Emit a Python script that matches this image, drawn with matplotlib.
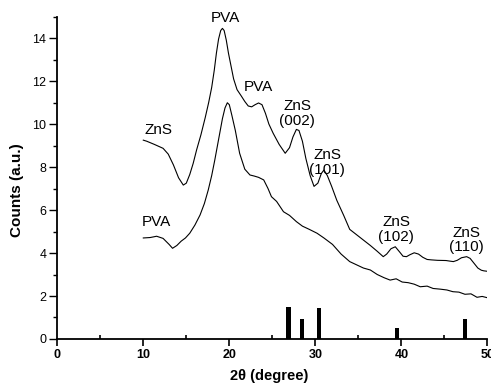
import numpy as np
import matplotlib.pyplot as plt
from matplotlib.ticker import MultipleLocator

plt.rcParams['font.family'] = ['Liberation Sans', 'DejaVu Sans']

# upper curve (ZnS/PVA)
upper_x = [10.0, 10.4, 11.3, 12.3, 12.9, 13.5, 14.1, 14.65, 15.0, 15.4, 15.8, 16.2,
           16.7, 17.2, 17.6, 17.95, 18.25, 18.5, 18.75, 19.0, 19.2, 19.4, 19.65, 19.9,
           20.2, 20.5, 20.9, 21.4, 21.8, 22.2, 22.6, 23.0, 23.4, 23.8, 24.2, 24.6,
           25.1, 25.8, 26.5, 27.0, 27.4, 27.8, 28.1, 28.5, 28.9, 29.4, 29.85, 30.3,
           30.7, 31.0, 31.4, 31.9, 32.5, 33.3, 34.0, 34.8, 35.6, 36.4, 37.2, 37.9,
           38.3, 38.8, 39.3, 39.8, 40.2, 40.6, 41.0, 41.5, 42.0, 42.5, 43.0, 43.5,
           44.2, 45.2, 45.7, 46.05, 46.5, 47.0, 47.6, 48.0, 48.4, 48.9, 49.3, 49.6,
           50.0]
upper_y = [9.25, 9.2, 9.05, 8.87, 8.6, 8.1, 7.5, 7.16, 7.25, 7.65, 8.17, 8.8,
           9.5, 10.3, 11.0, 11.7, 12.5, 13.3, 13.95, 14.35, 14.45, 14.35, 13.9, 13.3,
           12.7, 12.1, 11.6, 11.3, 11.05, 10.84, 10.8, 10.9, 10.98, 10.9, 10.5, 10.0,
           9.57, 9.05, 8.64, 8.9, 9.4, 9.75, 9.7, 9.2, 8.4, 7.6, 7.1, 7.25,
           7.7, 7.86, 7.6, 7.1, 6.45, 5.75, 5.1, 4.85, 4.6, 4.35, 4.08, 3.83,
           3.95, 4.2, 4.29, 4.05, 3.85, 3.83, 3.92, 4.01, 3.95, 3.8, 3.7, 3.68,
           3.66, 3.65, 3.62, 3.6, 3.66, 3.78, 3.83, 3.75, 3.55, 3.3, 3.2, 3.17,
           3.15]

# lower curve (pure PVA)
lower_x = [10.0, 10.8, 11.55, 12.3, 13.0, 13.4, 13.9, 14.4, 14.9, 15.4, 16.0, 16.6,
           17.1, 17.55, 17.95, 18.3, 18.6, 18.9, 19.2, 19.5, 19.77, 20.0, 20.3, 20.7,
           21.2, 21.8, 22.4, 22.9, 23.4, 24.0, 24.5, 24.9, 25.5, 26.3, 27.0, 27.8,
           28.5, 29.3, 30.2, 31.0, 32.0, 33.0, 34.0, 34.8, 35.6, 36.4, 37.2, 38.0,
           38.7, 39.4, 40.1, 40.8, 41.5, 42.2, 43.0, 43.7, 44.5, 45.3, 46.0, 46.7,
           47.4, 48.1, 48.8, 49.4, 50.0]
lower_y = [4.7, 4.72, 4.78, 4.68, 4.4, 4.22, 4.35, 4.55, 4.7, 4.92, 5.3, 5.77,
           6.3, 6.93, 7.6, 8.3, 8.95, 9.6, 10.25, 10.75, 10.99, 10.9, 10.4, 9.7,
           8.64, 7.9, 7.63, 7.58, 7.52, 7.4, 7.0, 6.62, 6.4, 5.92, 5.75, 5.46,
           5.25, 5.1, 4.92, 4.7, 4.4, 3.95, 3.6, 3.45, 3.3, 3.21, 3.0, 2.85,
           2.74, 2.8, 2.65, 2.62, 2.55, 2.43, 2.46, 2.35, 2.32, 2.28, 2.2, 2.18,
           2.08, 2.1, 1.94, 1.98, 1.92]

# ZnS reference lines
ref_x = [26.9, 28.45, 30.45, 39.5, 47.4]
ref_h = [1.50, 0.93, 1.44, 0.51, 0.93]

labels = ['PVA', 'ZnS', 'PVA', 'ZnS\n(002)', 'ZnS\n(101)', 'ZnS\n(102)', 'ZnS\n(110)', 'PVA']
label_x = [19.5, 11.75, 23.4, 27.9, 31.4, 39.4, 47.6, 11.55]
label_y = [14.95, 9.72, 11.7, 10.5, 8.2, 5.1, 4.6, 5.46]

fig = plt.figure(figsize=(4.91, 3.85), dpi=100)
ax = fig.add_axes([0.1167, 0.1195, 0.8758, 0.8375])

ax.plot(upper_x, upper_y, color='black', lw=0.8)
ax.plot(lower_x, lower_y, color='black', lw=0.8)
ax.bar(ref_x, ref_h, width=0.5, color='black')

for t, x, y in zip(labels, label_x, label_y):
    ax.text(x, y, t, ha='center', va='center', fontsize=11, linespacing=1.05, clip_on=False)

ax.set_xlim(0, 50)
ax.set_ylim(0, 15)
ax.spines['top'].set_visible(False)
ax.spines['right'].set_visible(False)
ax.spines['left'].set_linewidth(1.3)
ax.spines['bottom'].set_linewidth(1.3)

ax.xaxis.set_major_locator(MultipleLocator(10))
ax.xaxis.set_minor_locator(MultipleLocator(5))
ax.yaxis.set_major_locator(MultipleLocator(2))
ax.yaxis.set_minor_locator(MultipleLocator(1))
ax.tick_params(axis='x', which='major', direction='out', length=5, width=1.2, labelsize=9, pad=2)
ax.tick_params(axis='x', which='minor', direction='in', length=3, width=1.2)
ax.tick_params(axis='y', which='major', direction='out', length=6, width=1, labelsize=9, pad=2)
ax.tick_params(axis='y', which='minor', direction='out', length=3, width=1)
for lab in ax.get_xticklabels():
    lab.set_fontweight('bold')

ax.set_xlabel('2θ (degree)', fontsize=10.5, fontweight='bold')
ax.set_ylabel('Counts (a.u.)', fontsize=11, fontweight='bold')
ax.xaxis.set_label_coords(0.492, -0.092)
ax.yaxis.set_label_coords(-0.077, 0.462)

fig.savefig('out.png', dpi=100)
